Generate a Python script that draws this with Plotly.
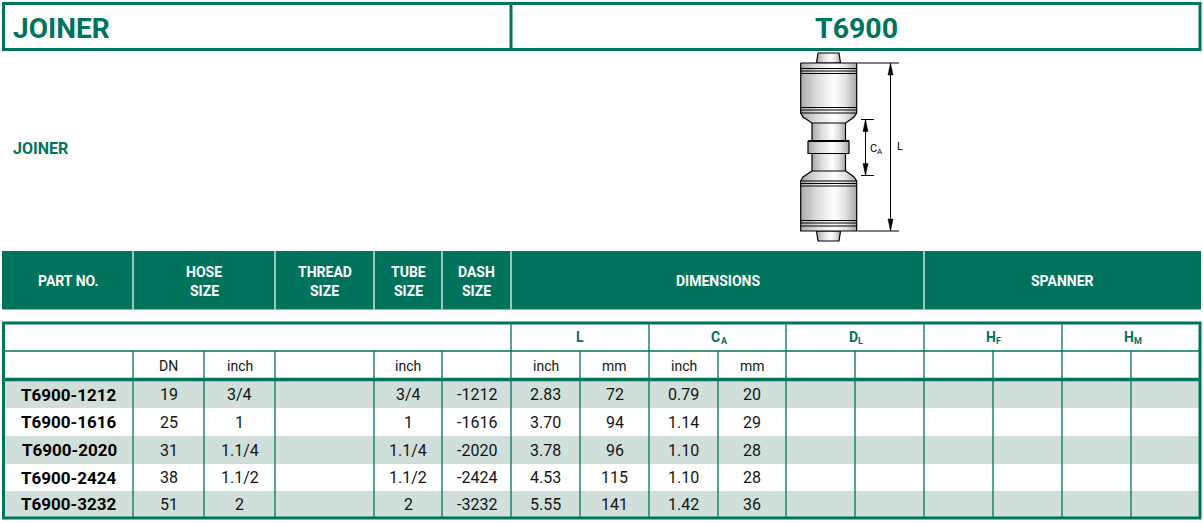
import plotly.graph_objects as go

# ---------- data ----------
title_left = "JOINER"
title_right = "T6900"
description = "JOINER"
header_labels = [["PART NO."], ["HOSE", "SIZE"], ["THREAD", "SIZE"], ["TUBE", "SIZE"], ["DASH", "SIZE"], ["DIMENSIONS"], ["SPANNER"]]
group_main = ["L", "C", "D", "H", "H"]
group_sub = ["", "A", "L", "F", "M"]
unit_labels = ["", "DN", "inch", "", "inch", "", "inch", "mm", "inch", "mm", "", "", "", "", "", ""]

part_no = ["T6900-1212", "T6900-1616", "T6900-2020", "T6900-2424", "T6900-3232"]
hose_dn = ["19", "25", "31", "38", "51"]
hose_inch = ["3/4", "1", "1.1/4", "1.1/2", "2"]
thread = ["", "", "", "", ""]
tube_inch = ["3/4", "1", "1.1/4", "1.1/2", "2"]
dash = ["-1212", "-1616", "-2020", "-2424", "-3232"]
l_inch = ["2.83", "3.70", "3.78", "4.53", "5.55"]
l_mm = ["72", "94", "96", "115", "141"]
ca_inch = ["0.79", "1.14", "1.10", "1.10", "1.42"]
ca_mm = ["20", "29", "28", "28", "36"]
columns = [part_no, hose_dn, hose_inch, thread, tube_inch, dash, l_inch, l_mm, ca_inch, ca_mm]

# ---------- layout constants (pixels) ----------
W, H = 1203, 523
GREEN = "#00735C"
BAND = "#D0DFDA"
INK = "#141414"
FONT = "Roboto, Liberation Sans, sans-serif"
col_edges = [3, 133, 204, 275, 374, 442, 511, 580, 649, 718, 786, 855, 924, 993, 1062, 1131, 1200]
head_edges = [3, 133, 275, 374, 442, 511, 924, 1200]
group_edges = [511, 649, 786, 924, 1062, 1200]
row_edges = [381, 408, 436, 464, 491, 517]

shapes, ann = [], []


def rect(x0, y0, x1, y1, fill=None, line=None, lw=0, layer="below"):
    shapes.append(dict(type="rect", x0=x0, y0=y0, x1=x1, y1=y1, xref="x", yref="y", layer=layer,
                       fillcolor=fill or "rgba(0,0,0,0)",
                       line=dict(color=line or "rgba(0,0,0,0)", width=lw)))


def seg(x0, y0, x1, y1, color=GREEN, lw=1.3):
    shapes.append(dict(type="line", x0=x0, y0=y0, x1=x1, y1=y1, xref="x", yref="y", layer="above",
                       line=dict(color=color, width=lw)))


def label(x, y, text, size, color=INK, bold=False, anchor="center"):
    ann.append(dict(x=x, y=y, xref="x", yref="y", text=f"<b>{text}</b>" if bold else text,
                    showarrow=False, xanchor=anchor, yanchor="middle", align="center",
                    borderpad=0, borderwidth=0,
                    font=dict(family=FONT, size=size, color=color)))


# title box
rect(3.5, 3.5, 1200, 49.5, line=GREEN, lw=3)
seg(511, 3, 511, 50, lw=3)
label(13, 28, title_left, 28, GREEN, True, "left")
label(856, 28, title_right, 28.5, GREEN, True)
label(13, 148, description, 16, GREEN, True, "left")

# green header band
rect(2, 251, 1201, 309.5, fill=GREEN)
for x in head_edges[1:-1]:
    seg(x, 251, x, 309.5, "#FFFFFF", 1.2)
for i, lines in enumerate(header_labels):
    cx = (head_edges[i] + head_edges[i + 1]) / 2
    if len(lines) == 1:
        label(cx, 280.5, lines[0], 14, "#FFFFFF", True)
    else:
        label(cx, 271.5, lines[0], 14, "#FFFFFF", True)
        label(cx, 290.5, lines[1], 14, "#FFFFFF", True)

# table bands
for i in (0, 2, 4):
    rect(col_edges[0], row_edges[i], col_edges[-1], row_edges[i + 1], fill=BAND)

# table grid
seg(3, 351, 1200, 351)
for x in group_edges[:-1]:
    seg(x, 322, x, 351)
for x in col_edges[1:-1]:
    seg(x, 351, x, 517)
seg(3, 379.5, 1200, 379.5, lw=3.5)
rect(3.5, 323, 1200, 518, line=GREEN, lw=3, layer="above")

# table text
for i, t in enumerate(group_main):
    cx = (group_edges[i] + group_edges[i + 1]) / 2
    if group_sub[i]:
        label(cx + 2.5, 336.5, t, 14, GREEN, True, "right")
        label(cx + 3, 340.5, group_sub[i], 9, GREEN, True, "left")
    else:
        label(cx, 336.5, t, 14, GREEN, True)
for i, t in enumerate(unit_labels):
    if t:
        label((col_edges[i] + col_edges[i + 1]) / 2, 366, t, 14, INK)
for c, values in enumerate(columns):
    for r, v in enumerate(values):
        if v:
            shift = 1 if c == 0 else 0
            label((col_edges[c] + col_edges[c + 1]) / 2 + shift, (row_edges[r] + row_edges[r + 1]) / 2,
                  v, 17 if c == 0 else 16, "#000000" if c == 0 else INK, c == 0)

# ---------- joiner drawing ----------
metal = [[0, "#A9A9A9"], [0.3, "#DEDEDE"], [0.6, "#FFFFFF"], [0.8, "#E2E2E2"], [1, "#A6A6A6"]]
parts = [
    ([818, 839, 840.5, 816.5, 818], [53, 53, 63, 63, 53]),
    ([816.5, 840.5, 839, 818, 816.5], [231, 231, 241, 241, 231]),
    ([812, 845.5, 845.5, 812, 812], [122, 122, 142, 142, 122]),
    ([812, 845.5, 845.5, 812, 812], [152, 152, 172, 172, 152]),
    ([808, 849, 849, 808, 808], [141, 141, 153.5, 153.5, 141]),
    ([800.7, 856.7, 856.7, 854, 850, 845.5, 812, 807, 803, 800.7, 800.7],
     [63, 63, 113, 117, 120, 123, 123, 120, 117, 113, 63]),
    ([812, 845.5, 850, 854, 856.7, 856.7, 800.7, 800.7, 803, 807, 812],
     [171, 171, 174, 177, 181, 231, 231, 181, 177, 174, 171]),
]
fig = go.Figure()
for xs, ys in parts:
    fig.add_trace(go.Scatter(x=xs, y=ys, mode="lines", fill="toself", hoverinfo="skip", showlegend=False,
                             line=dict(color="#000000", width=1.2),
                             fillgradient=dict(type="horizontal", colorscale=metal)))
for y in (68.5, 71, 73.5, 107.5, 110, 113, 181, 183.5, 186, 220.5, 223, 226):
    seg(800.7, y, 856.7, y, "#000000", 1)
seg(808, 141, 849, 141, "#000000", 2)

# dimension lines
seg(857.5, 63, 899, 63, "#000000", 1)
seg(857.5, 231, 899, 231, "#000000", 1)
seg(890.5, 63, 890.5, 231, "#000000", 1)
seg(861, 119.5, 874, 119.5, "#000000", 1)
seg(861, 175.5, 874, 175.5, "#000000", 1)
seg(865.5, 119.5, 865.5, 175.5, "#000000", 1)
arrows = [(890.5, 63, 1), (890.5, 231, -1), (865.5, 119.5, 1), (865.5, 175.5, -1)]
for ax, ay, d in arrows:
    fig.add_trace(go.Scatter(x=[ax, ax + 2.5, ax - 2.5, ax], y=[ay, ay + 12 * d, ay + 12 * d, ay], mode="lines",
                             fill="toself", fillcolor="#000000", line=dict(color="#000000", width=0.5),
                             hoverinfo="skip", showlegend=False))
label(877, 148.5, "C", 11, "#000000", False, "right")
label(877, 151, "A", 8, "#000000", False, "left")
label(900, 146, "L", 11, "#000000", False, "center")

fig.update_layout(
    width=W, height=H, margin=dict(l=0, r=0, t=0, b=0), paper_bgcolor="#FFFFFF", plot_bgcolor="#FFFFFF",
    shapes=shapes, annotations=ann, showlegend=False,
    xaxis=dict(range=[0, W], visible=False, fixedrange=True),
    yaxis=dict(range=[H, 0], visible=False, fixedrange=True),
)
fig.write_html("out.html", config=dict(displayModeBar=False),
               post_script="document.body.style.margin='0';document.body.style.overflow='hidden';")
